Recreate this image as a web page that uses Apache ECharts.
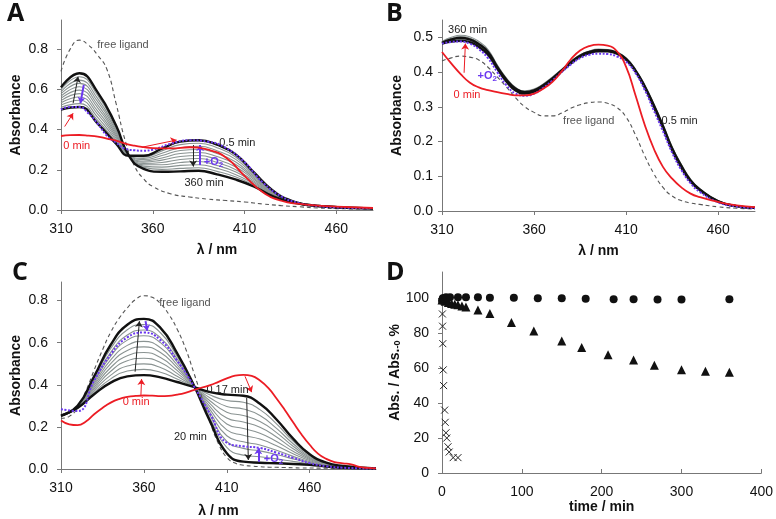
<!DOCTYPE html>
<html><head><meta charset="utf-8">
<script src="https://cdn.jsdelivr.net/npm/echarts@6/dist/echarts.min.js"></script>
<style>html,body{margin:0;padding:0;background:#fff}#c{width:776px;height:519px}</style>
</head><body><div id="c"></div>
<script>
// ---------- Panel A ----------
const wlA = [310,320,330,340,347,355,365,375,385,395,405,415,425,435,450,480];
const A_05min = [0.50,0.512,0.43,0.33,0.27,0.27,0.305,0.34,0.347,0.325,0.278,0.188,0.10,0.048,0.02,0.008];
const A_360min = [0.61,0.68,0.585,0.42,0.27,0.205,0.19,0.192,0.195,0.177,0.152,0.117,0.07,0.04,0.02,0.008];
const A_gray1 = [0.511,0.529,0.446,0.339,0.27,0.264,0.294,0.325,0.332,0.310,0.265,0.181,0.097,0.047,0.02,0.008];
const A_gray2 = [0.522,0.546,0.461,0.348,0.27,0.257,0.282,0.310,0.317,0.295,0.253,0.174,0.094,0.046,0.02,0.008];
const A_gray3 = [0.533,0.562,0.477,0.357,0.27,0.251,0.271,0.296,0.301,0.281,0.240,0.167,0.091,0.046,0.02,0.008];
const A_gray4 = [0.544,0.579,0.492,0.366,0.27,0.244,0.259,0.281,0.286,0.266,0.228,0.160,0.088,0.045,0.02,0.008];
const A_gray5 = [0.555,0.596,0.508,0.375,0.27,0.238,0.248,0.266,0.271,0.251,0.215,0.153,0.085,0.044,0.02,0.008];
const A_gray6 = [0.566,0.613,0.523,0.384,0.27,0.231,0.236,0.251,0.256,0.236,0.202,0.145,0.082,0.043,0.02,0.008];
const A_gray7 = [0.577,0.630,0.539,0.393,0.27,0.225,0.225,0.236,0.241,0.221,0.190,0.138,0.079,0.042,0.02,0.008];
const A_gray8 = [0.588,0.646,0.554,0.402,0.27,0.218,0.213,0.222,0.225,0.207,0.177,0.131,0.076,0.042,0.02,0.008];
const A_gray9 = [0.599,0.663,0.570,0.411,0.27,0.212,0.202,0.207,0.210,0.192,0.165,0.124,0.073,0.041,0.02,0.008];
const wlA5 = [310,315,320,325,330,335,340,345,350,355,360,370,380,390,400,410,420,430,440,450,460,480];
const A_free = [0.69,0.80,0.845,0.82,0.77,0.70,0.53,0.345,0.22,0.155,0.117,0.08,0.065,0.054,0.047,0.04,0.03,0.022,0.016,0.01,0.007,0.004];
const A_0min = [0.368,0.372,0.373,0.37,0.365,0.355,0.345,0.33,0.32,0.313,0.308,0.307,0.312,0.30,0.26,0.17,0.088,0.046,0.03,0.022,0.017,0.01];
const A_O2 = [0.50,0.512,0.512,0.48,0.43,0.37,0.335,0.305,0.297,0.295,0.30,0.33,0.347,0.34,0.308,0.237,0.137,0.068,0.034,0.02,0.013,0.008];

// ---------- Panel B ----------
const wlB = [310,315,320,325,330,335,340,345,350,355,360,365,370,375,380,385,390,395,400,405,410,415,420,425,430,435,440,445,450,460,470,480];
const B_360min = [0.484,0.494,0.498,0.494,0.48,0.458,0.415,0.378,0.352,0.342,0.347,0.362,0.382,0.405,0.428,0.447,0.458,0.463,0.462,0.455,0.438,0.405,0.36,0.305,0.245,0.18,0.13,0.088,0.062,0.028,0.014,0.009];
const B_05min = [0.482,0.488,0.49,0.486,0.472,0.45,0.41,0.373,0.347,0.338,0.343,0.358,0.378,0.402,0.425,0.444,0.455,0.46,0.46,0.453,0.436,0.403,0.357,0.30,0.24,0.175,0.125,0.085,0.06,0.027,0.014,0.009];
const B_gray1 = [0.486,0.497,0.502,0.498,0.484,0.461,0.418,0.38,0.354,0.344,0.349,0.364,0.384,0.406,0.429,0.448,0.459,0.464,0.463,0.456,0.439,0.407,0.362,0.307,0.247,0.183,0.132,0.09,0.063,0.029,0.015,0.009];
const B_gray2 = [0.488,0.5,0.506,0.502,0.488,0.465,0.421,0.383,0.356,0.346,0.351,0.366,0.386,0.408,0.431,0.45,0.461,0.466,0.465,0.458,0.441,0.409,0.364,0.309,0.249,0.185,0.134,0.092,0.064,0.03,0.015,0.009];
const B_gray3 = [0.484,0.491,0.494,0.49,0.476,0.454,0.412,0.375,0.349,0.34,0.345,0.36,0.38,0.403,0.426,0.445,0.456,0.461,0.461,0.454,0.437,0.404,0.358,0.302,0.242,0.177,0.127,0.086,0.061,0.027,0.014,0.009];
const B_O2 = [0.482,0.487,0.488,0.482,0.466,0.44,0.40,0.362,0.338,0.332,0.338,0.355,0.376,0.40,0.422,0.44,0.45,0.453,0.452,0.445,0.43,0.398,0.35,0.29,0.23,0.168,0.118,0.08,0.055,0.025,0.013,0.008];
const B_0min = [0.458,0.425,0.395,0.37,0.356,0.348,0.342,0.337,0.333,0.333,0.338,0.352,0.372,0.402,0.437,0.462,0.475,0.479,0.476,0.46,0.415,0.335,0.25,0.18,0.127,0.093,0.068,0.05,0.04,0.026,0.016,0.011];
const B_free = [0.432,0.441,0.446,0.443,0.435,0.414,0.386,0.357,0.326,0.3,0.284,0.274,0.274,0.282,0.296,0.306,0.312,0.314,0.31,0.298,0.27,0.22,0.16,0.108,0.068,0.043,0.03,0.023,0.019,0.012,0.008,0.006];

// ---------- Panel C ----------
const wlC = [310,320,330,340,350,360,370,380,390,400,410,420,430,440,450,460,470,480,500];
const C_017min = [0.253,0.29,0.355,0.41,0.44,0.446,0.435,0.413,0.39,0.365,0.353,0.348,0.31,0.235,0.144,0.07,0.03,0.015,0.003];
const C_20min = [0.253,0.30,0.44,0.59,0.685,0.713,0.67,0.55,0.40,0.225,0.075,0.035,0.03,0.027,0.024,0.02,0.012,0.006,0.002];
const C_gray1 = [0.253,0.291,0.364,0.428,0.465,0.473,0.459,0.427,0.391,0.351,0.325,0.317,0.282,0.214,0.132,0.065,0.028,0.014,0.003];
const C_gray2 = [0.253,0.292,0.372,0.446,0.489,0.499,0.482,0.440,0.392,0.337,0.297,0.285,0.254,0.193,0.12,0.06,0.026,0.013,0.003];
const C_gray3 = [0.253,0.293,0.381,0.464,0.514,0.526,0.506,0.454,0.393,0.323,0.270,0.254,0.226,0.173,0.108,0.055,0.025,0.012,0.003];
const C_gray4 = [0.253,0.294,0.389,0.482,0.538,0.553,0.529,0.468,0.394,0.309,0.242,0.223,0.198,0.152,0.096,0.05,0.023,0.011,0.003];
const C_gray5 = [0.253,0.295,0.398,0.50,0.563,0.580,0.553,0.482,0.395,0.295,0.214,0.192,0.17,0.131,0.084,0.045,0.021,0.011,0.003];
const C_gray6 = [0.253,0.296,0.406,0.518,0.587,0.606,0.576,0.495,0.396,0.281,0.186,0.160,0.142,0.110,0.072,0.04,0.019,0.01,0.002];
const C_gray7 = [0.253,0.297,0.415,0.536,0.612,0.633,0.600,0.509,0.397,0.267,0.158,0.129,0.114,0.089,0.06,0.035,0.017,0.009,0.002];
const C_gray8 = [0.253,0.298,0.423,0.554,0.636,0.660,0.623,0.523,0.398,0.253,0.131,0.098,0.086,0.069,0.048,0.03,0.016,0.008,0.002];
const C_gray9 = [0.253,0.299,0.432,0.572,0.661,0.686,0.647,0.536,0.399,0.239,0.103,0.066,0.058,0.048,0.036,0.025,0.014,0.007,0.002];
const C_O2 = [0.284,0.275,0.42,0.545,0.625,0.648,0.612,0.515,0.395,0.26,0.125,0.108,0.10,0.078,0.053,0.028,0.013,0.006,0.002];
const wlC5 = [310,315,320,325,330,335,340,345,350,355,360,365,370,375,380,385,390,395,400,405,410,415,420,425,430,435,440,445,450,455,460,465,470,475,480,485,490,495,500];
const C_0min = [0.23,0.212,0.208,0.225,0.26,0.29,0.315,0.332,0.342,0.347,0.349,0.348,0.346,0.347,0.353,0.362,0.375,0.387,0.398,0.414,0.43,0.443,0.447,0.442,0.42,0.385,0.335,0.28,0.222,0.165,0.115,0.073,0.048,0.033,0.027,0.022,0.01,0.005,0.003];
const C_free = [0.24,0.25,0.29,0.37,0.47,0.565,0.65,0.715,0.765,0.805,0.823,0.815,0.785,0.735,0.665,0.575,0.46,0.34,0.22,0.12,0.055,0.028,0.018,0.014,0.011,0.009,0.008,0.007,0.006,0.005,0.005,0.004,0.004,0.003,0.003,0.002,0.002,0.001,0.001];

// ---------- Panel D ----------
const D_circleTime = [0,1,2,5,10,20,30,45,60,90,120,150,180,215,240,270,300,360];
const D_circleVal = [98.5,100,100,100.5,100.5,100.5,100.5,100.5,100.3,100.3,100,100,99.7,99.4,99.4,99.3,99.3,99.4];
const D_triTime = [0,4,8,12,16,20,25,30,45,60,87,115,150,175,208,240,266,300,330,360];
const D_triVal = [99,98.3,97.6,97,96.6,96.2,95.6,95,93.3,91.2,86.1,81.2,75.5,71.8,67.7,64.6,61.6,59.1,58.2,57.6];
const D_crossTime = [0.5,0.7,1,1.5,2,3.3,4,5,6,7.5,9,14,20];
const D_crossVal = [91,84,74,59,50,36,29,23,20,15,12,8.8,8.8];

// ---------- styles ----------
const FF = 'Liberation Sans, Arial, sans-serif';
const GRAY = {color:'#8a9392', width:1.1};
const BLACK = {color:'#111', width:2.4};
const RED = {color:'#ec1c24', width:1.8};
const BLUE = {color:'#6b38f0', width:2, type:[2,1.6]};
const FREE = {color:'#555', width:1.1, type:[4,3]};
const BLUEC = '#6b38f0', REDC = '#ec1c24';

function zip(xs, ys){ return xs.map((x,k)=>[x, ys[k]]); }
function L(xs, ys, i, st, z){
  return {type:'line', xAxisIndex:i, yAxisIndex:i, data:zip(xs,ys), showSymbol:false, symbol:'none',
    smooth:0.5, lineStyle:st, z:z, silent:true};
}
function T(x, y, text, color, bold){
  return {coord:[x,y], label:{show:true, position:'right', distance:0, formatter:text, color:color,
    fontSize:11, fontFamily:FF, fontWeight: bold ? 'bold' : 'normal', lineHeight:14,
    rich:{s:{fontSize:8, fontWeight:'bold', color:color, lineHeight:8, verticalAlign:'bottom'}}}};
}
function AR(x1,y1,x2,y2,color,w){
  return [{coord:[x1,y1], lineStyle:{color:color, width:w||1, type:'solid'}}, {coord:[x2,y2]}];
}
function annot(i, texts, arrows){
  return {type:'line', xAxisIndex:i, yAxisIndex:i, data:[[310,0]], showSymbol:false, symbol:'none',
    lineStyle:{opacity:0}, z:20, silent:true,
    markPoint:{symbol:'circle', symbolSize:1, itemStyle:{color:'rgba(0,0,0,0)'}, silent:true, data:texts},
    markLine:{silent:true, symbol:['none','arrow'], symbolSize:6, label:{show:false}, data:arrows}};
}

const series = [];
// A
[A_gray1,A_gray2,A_gray3,A_gray4,A_gray5,A_gray6,A_gray7,A_gray8,A_gray9].forEach(g=>series.push(L(wlA,g,0,GRAY,2)));
series.push(L(wlA5,A_free,0,FREE,3));
series.push(L(wlA,A_05min,0,BLACK,4));
series.push(L(wlA,A_360min,0,BLACK,4));
series.push(L(wlA5,A_O2,0,BLUE,5));
series.push(L(wlA5,A_0min,0,RED,6));
series.push(annot(0,[
  T(329.5,0.82,'free ligand','#555'), T(311,0.32,'0 min',REDC), T(396,0.333,'0.5 min','#222'),
  T(387.5,0.24,'+O{s|2}',BLUEC,true), T(377,0.135,'360 min','#222')
],[
  AR(316.6,0.531,319.3,0.663,'#222'), AR(322.4,0.622,320.6,0.531,BLUEC,2), AR(312,0.415,316.6,0.481,REDC),
  AR(354,0.312,373,0.348,REDC), AR(382,0.323,382,0.216,'#222'), AR(385.8,0.224,385.8,0.323,BLUEC,2)
]));
// B
[B_gray1,B_gray2,B_gray3].forEach(g=>series.push(L(wlB,g,1,GRAY,2)));
series.push(L(wlB,B_free,1,FREE,3));
series.push(L(wlB,B_05min,1,BLACK,4));
series.push(L(wlB,B_360min,1,BLACK,4));
series.push(L(wlB,B_O2,1,BLUE,5));
series.push(L(wlB,B_0min,1,RED,6));
series.push(annot(1,[
  T(313,0.52,'360 min','#222'), T(329,0.39,'+O{s|2}',BLUEC,true), T(316,0.333,'0 min',REDC),
  T(375.5,0.26,'free ligand','#555'), T(429,0.26,'0.5 min','#222')
],[ AR(322,0.398,322.7,0.482,REDC) ]));
// C
[C_gray1,C_gray2,C_gray3,C_gray4,C_gray5,C_gray6,C_gray7,C_gray8,C_gray9].forEach(g=>series.push(L(wlC,g,2,GRAY,2)));
series.push(L(wlC5,C_free,2,FREE,3));
series.push(L(wlC,C_017min,2,BLACK,4));
series.push(L(wlC,C_20min,2,BLACK,4));
series.push(L(wlC,C_O2,2,BLUE,5));
series.push(L(wlC5,C_0min,2,RED,6));
series.push(annot(2,[
  T(369,0.79,'free ligand','#555'), T(346.9,0.318,'0 min',REDC), T(397.4,0.377,'0.17 min','#222'),
  T(377.8,0.152,'20 min','#222'), T(432,0.05,'+O{s|2}',BLUEC,true)
],[
  AR(354.7,0.462,357.3,0.702,'#222'), AR(361,0.702,362,0.656,BLUEC,2), AR(358.2,0.35,358.6,0.427,REDC),
  AR(421,0.44,425,0.365,REDC), AR(422,0.338,423,0.043,'#222'), AR(429,0.035,429,0.098,BLUEC,2)
]));
// D
series.push({type:'scatter', xAxisIndex:3, yAxisIndex:3, data:zip(D_circleTime,D_circleVal), symbol:'circle', symbolSize:8, itemStyle:{color:'#111', opacity:1}, z:5});
series.push({type:'scatter', xAxisIndex:3, yAxisIndex:3, data:zip(D_triTime,D_triVal), symbol:'triangle', symbolSize:9, itemStyle:{color:'#111', opacity:1}, z:4});
series.push({type:'scatter', xAxisIndex:3, yAxisIndex:3, data:zip(D_crossTime,D_crossVal), symbol:'path://M0,0L10,10M10,0L0,10', symbolSize:7,
  itemStyle:{color:'rgba(0,0,0,0)', borderColor:'#222', borderWidth:1, opacity:1}, z:3});

const AXL = {color:'#777', width:1};
function xAx(i, min, max, itv, name, gap, tickInside){
  return {type:'value', gridIndex:i, min:min, max:max, interval:itv, name:name, nameLocation:'middle', nameGap:gap,
    nameTextStyle:{fontFamily:FF, fontWeight:'bold', fontSize:14, color:'#111'},
    axisLine:{show:true, onZero:false, lineStyle:AXL}, axisTick:{show:true, inside:!!tickInside, length:4, lineStyle:AXL},
    axisLabel:{fontFamily:FF, fontSize:14, color:'#111', margin:12, showMaxLabel: i===3},
    splitLine:{show:false}};
}
function yAx(i, min, max, itv, name, gap, margin, fmt, rich){
  return {type:'value', gridIndex:i, min:min, max:max, interval:itv, name:name, nameLocation:'middle', nameGap:gap, nameRotate:90,
    nameTextStyle:{fontFamily:FF, fontWeight:'bold', fontSize:14, color:'#111', rich:rich},
    axisLine:{show:true, onZero:false, lineStyle:AXL}, axisTick:{show:true, inside:false, length:4, lineStyle:AXL},
    axisLabel:{fontFamily:FF, fontSize:14, color:'#111', margin:margin, showMaxLabel:false, formatter:fmt},
    splitLine:{show:false}};
}
const f1 = v => v.toFixed(1);
const LET = {fontFamily:'Open Sans', fontWeight:'bold', fontSize:25, color:'#111'};
const option = {
  animation:false,
  backgroundColor:'#fff',
  title:[
    {text:'A', left:7, top:1, padding:0, textStyle:LET},
    {text:'B', left:386, top:1, padding:0, textStyle:LET},
    {text:'C', left:12, top:260, padding:0, textStyle:LET},
    {text:'D', left:386, top:260, padding:0, textStyle:LET}
  ],
  grid:[
    {left:61, top:20, width:312, height:190},
    {left:442, top:20, width:313, height:191},
    {left:61, top:282, width:315, height:191},
    {left:442, top:272, width:322, height:201}
  ],
  xAxis:[
    xAx(0,310,480,50,'λ / nm',33),
    xAx(1,310,480,50,'λ / nm',33),
    xAx(2,310,500,50,'λ / nm',35),
    xAx(3,0,400,100,'time / min',21,true)
  ],
  yAxis:[
    yAx(0,0,0.945,0.2,'Absorbance',38,13,f1),
    yAx(1,0,0.55,0.1,'Absorbance',38,9,f1),
    yAx(2,0,0.888,0.2,'Absorbance',38,13,f1),
    yAx(3,0,115,20,'Abs. / Abs.{s|-0} %',40,13,v=>String(v),{s:{fontSize:9, fontWeight:'bold', lineHeight:9, verticalAlign:'bottom'}})
  ],
  series:series
};
const chart = echarts.init(document.getElementById('c'), null, {renderer:'canvas'});
chart.setOption(option);
</script></body></html>
